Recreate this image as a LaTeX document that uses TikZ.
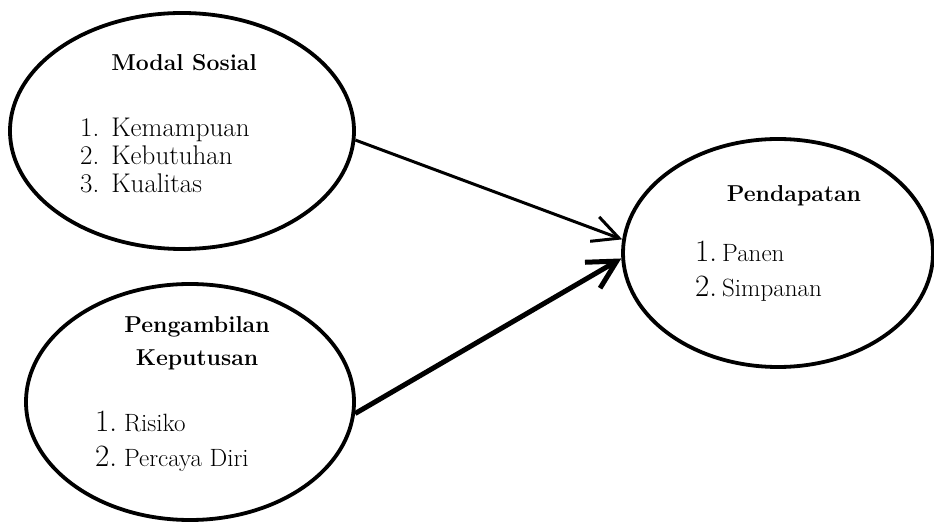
\documentclass[tikz,border=0pt]{standalone}
\usepackage{fontspec}
\usetikzlibrary{shapes.geometric,arrows.meta}
\tikzset{
  oval/.style={draw, ellipse, line width=3.8pt, inner sep=0pt},
  title/.style={inner sep=0pt, anchor=base, align=center, font=\fontsize{23}{33}\selectfont\bfseries},
  listtxt/.style={inner sep=0pt, anchor=base west},
  thinarrow/.style={line width=3pt, -{Straight Barb[length=26pt,width=26pt]}},
  thickarrow/.style={line width=5pt, -{Straight Barb[length=28pt,width=30pt]}}
}
\newcommand{\smallword}[1]{\fontsize{25}{35}\selectfont #1}
\begin{document}
\begin{tikzpicture}[x=1pt,y=1pt]
\useasboundingbox (0,0) rectangle (934,522);
% ellipses
\node[oval, minimum width=344pt, minimum height=236pt] (ms) at (182,391) {};
\node[oval, minimum width=328pt, minimum height=236pt] (pk) at (190,120) {};
\node[oval, minimum width=310pt, minimum height=228pt] (pd) at (778,269) {};
% titles
\node[title] (mst) at (184,451) {Modal Sosial};
\node[title] (pkt) at (197,156) {Pengambilan\\Keputusan};
\node[title] (pdt) at (794,320) {Pendapatan};
% lists
\node[listtxt] (msl) at (80,385) {\fontsize{27}{28}\selectfont
  \begin{tabular}[t]{@{}l@{\hspace{12pt}}l@{}}
  1. & Kemampuan\\
  2. & Kebutuhan\\
  3. & Kualitas
  \end{tabular}};
\node[listtxt] (pkl) at (95,90) {\fontsize{31}{35}\selectfont
  \begin{tabular}[t]{@{}l@{\hspace{7pt}}l@{}}
  1. & \smallword{Risiko}\\
  2. & \smallword{Percaya Diri}
  \end{tabular}};
\node[listtxt] (pdl) at (695,260) {\fontsize{31}{35}\selectfont
  \begin{tabular}[t]{@{}l@{\hspace{5pt}}l@{}}
  1. & \smallword{Panen}\\
  2. & \smallword{Simpanan}
  \end{tabular}};
% connectors
\draw[thinarrow] (ms.-3) -- (pd.175);
\draw[thickarrow] (pk.-4) -- (pd.182);
\end{tikzpicture}
\end{document}
